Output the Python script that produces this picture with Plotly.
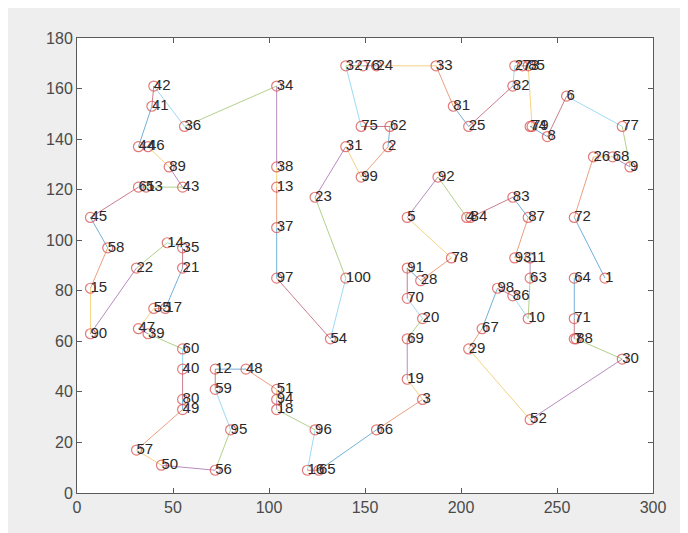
import plotly.graph_objects as go

city_ids = list(range(1, 101))
city_x = [275, 162, 180, 203, 172, 255, 259, 245, 288, 235,
          236, 72, 104, 47, 7, 120, 46, 104, 172, 180,
          55, 31, 124, 156, 204, 269, 228, 179, 204, 284,
          140, 140, 187, 104, 55, 56, 104, 104, 37, 55,
          39, 40, 55, 32, 7, 37, 32, 88, 55, 44,
          104, 236, 36, 132, 40, 72, 31, 16, 72, 55,
          32, 163, 236, 259, 126, 156, 211, 279, 172, 172,
          259, 259, 232, 236, 148, 149, 284, 195, 237, 55,
          196, 227, 227, 205, 235, 227, 235, 260, 48, 7,
          172, 188, 228, 104, 80, 124, 104, 219, 148, 140]
city_y = [85, 137, 37, 109, 109, 157, 61, 141, 129, 69,
          93, 49, 121, 99, 81, 9, 73, 33, 45, 69,
          89, 89, 117, 169, 145, 133, 169, 84, 57, 53,
          137, 169, 169, 161, 97, 145, 105, 129, 63, 49,
          153, 161, 121, 137, 109, 137, 65, 49, 33, 11,
          41, 29, 121, 61, 73, 9, 17, 97, 41, 57,
          121, 145, 85, 85, 9, 25, 65, 133, 61, 77,
          69, 109, 169, 145, 145, 169, 145, 93, 145, 37,
          153, 161, 117, 109, 169, 78, 109, 61, 129, 63,
          89, 125, 93, 37, 25, 25, 85, 81, 125, 85]
route = [1, 72, 26, 68, 9, 77, 6, 8, 74, 79, 85, 73, 27, 82, 25, 81, 33, 24, 76, 32,
         75, 62, 2, 99, 31, 23, 100, 54, 97, 37, 13, 38, 34, 36, 42, 41, 44, 46, 89, 43,
         53, 61, 45, 58, 15, 90, 22, 14, 35, 21, 17, 55, 47, 39, 60, 40, 80, 49, 57, 50,
         56, 95, 59, 12, 48, 51, 94, 18, 96, 16, 65, 66, 3, 19, 69, 20, 70, 91, 28, 78,
         5, 92, 4, 84, 83, 87, 93, 11, 63, 10, 86, 98, 67, 29, 52, 30, 88, 7, 71, 64]

x_ticks = [0, 50, 100, 150, 200, 250, 300]
y_ticks = [0, 20, 40, 60, 80, 100, 120, 140, 160, 180]

seg_colors = ["rgb(0,114,189)", "rgb(217,83,25)", "rgb(237,177,32)", "rgb(126,47,142)",
              "rgb(119,172,48)", "rgb(77,190,238)", "rgb(162,20,47)"]

fig = go.Figure()

# route segments, colour cycling per segment (MATLAB default order)
for c in range(len(seg_colors)):
    xs, ys = [], []
    for i in range(len(route) - 1):
        if i % len(seg_colors) != c:
            continue
        a = route[i] - 1
        b = route[i + 1] - 1
        xs += [city_x[a], city_x[b], None]
        ys += [city_y[a], city_y[b], None]
    fig.add_trace(go.Scatter(x=xs, y=ys, mode="lines",
                             line=dict(color=seg_colors[c], width=1),
                             opacity=0.55, hoverinfo="skip", showlegend=False))

fig.add_trace(go.Scatter(x=city_x, y=city_y, mode="markers",
                         marker=dict(symbol="circle-open", size=10,
                                     color="rgba(215,80,80,0.75)",
                                     line=dict(width=1.2)),
                         showlegend=False))

fig.add_trace(go.Scatter(x=city_x, y=city_y, mode="text",
                         text=[str(i) for i in city_ids],
                         textposition="middle right",
                         textfont=dict(family="Liberation Sans, Arial, sans-serif",
                                       size=15, color="#2a2a2a"),
                         showlegend=False))

axis_common = dict(showgrid=False, zeroline=False, showline=True, linecolor="#5a5a5a",
                   linewidth=1, mirror="ticks", ticks="inside", ticklen=5,
                   tickcolor="#5a5a5a",
                   tickfont=dict(family="Liberation Sans, Arial, sans-serif",
                                 size=16, color="#4a4a4a"))

fig.update_layout(
    width=688, height=533,
    margin=dict(l=69, r=43, t=30, b=48),
    paper_bgcolor="#eeeeee",
    plot_bgcolor="white",
    xaxis=dict(range=[0, 300], tickvals=x_ticks, ticktext=[str(v) for v in x_ticks],
               **axis_common),
    yaxis=dict(range=[0, 180], tickvals=y_ticks, ticktext=[str(v) for v in y_ticks],
               **axis_common),
)

fig.write_html("out.html")
